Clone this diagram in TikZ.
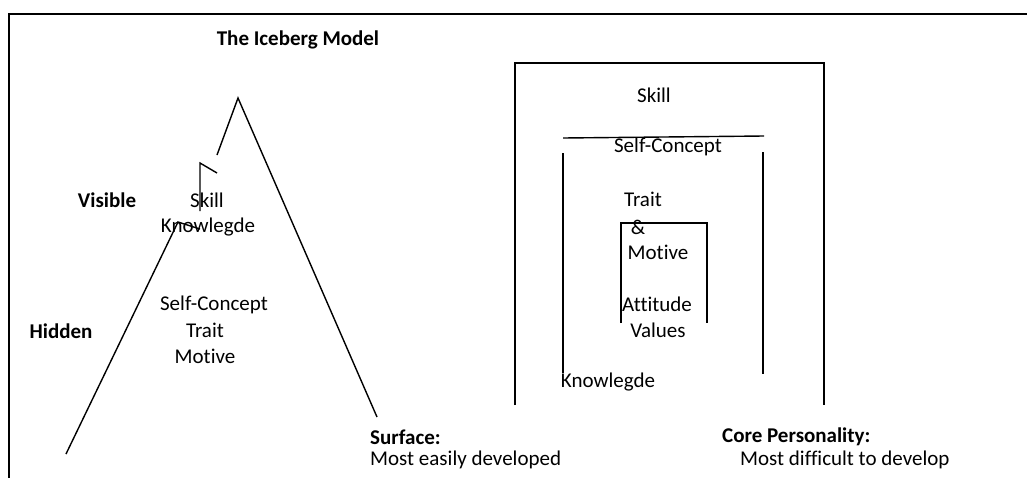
\documentclass[tikz,border=0pt]{standalone}
\usepackage{fontspec}
\setmainfont{Carlito}[Ligatures=NoCommon]
\begin{document}
\begin{tikzpicture}[x=1pt,y=-1pt,
  lbl/.style={inner sep=0pt, font=\fontsize{21}{24}\selectfont},
  blbl/.style={lbl, font=\fontsize{21}{24}\selectfont\bfseries},
  ln/.style={line width=1.4pt},
  frm/.style={line width=2pt}]
\useasboundingbox (0,0) rectangle (1027,477);
% page frame (top and left edges)
\draw[frm] (9,478) -- (9,14) -- (1028,14);

% title
\node[blbl] (title) at (298,40) {The Iceberg Model};

% iceberg outline
\coordinate (apex) at (238,98);
\draw[ln] (217,155) -- (apex) -- (377,417);
\draw[ln] (217,173) -- (200,163) -- (200,211);
\draw[ln] (66,454) -- (178,222) -- (200,229);

% iceberg labels
\node[blbl] (visible) at (107,200) {Visible};
\node[blbl] (hidden) at (61,331) {Hidden};
\node[lbl] (skillA) at (207,200) {Skill};
\node[lbl] (knowA) at (208,227) {Knowlegde};
\node[lbl] (selfA) at (214,305) {Self-Concept};
\node[lbl] (traitA) at (205,330) {Trait};
\node[lbl] (motiveA) at (205,356) {Motive};

% nested layers
\draw[ln] (515,405) -- (515,63) -- (824,63) -- (824,405);
\draw[ln] (563,138) -- (764,136);
\draw[ln] (563,153) -- (563,373);
\draw[ln] (763,152) -- (763,374);
\draw[ln] (621,323) -- (621,223) -- (707,223) -- (707,323);

% layer labels
\node[lbl] (skillB) at (654,95) {Skill};
\node[lbl] (selfB) at (668,147) {Self-Concept};
\node[lbl] (traitB) at (643,199) {Trait};
\node[lbl] (amp) at (638,227) {\&};
\node[lbl] (motiveB) at (658,252) {Motive};
\node[lbl] (attB) at (657,304) {Attitude};
\node[lbl] (valB) at (658,330) {Values};
\node[lbl] (knowB) at (608,382) {Knowlegde};

% captions
\node[blbl, anchor=west] (surf) at (370,437) {Surface:};
\node[lbl, anchor=west] (surfT) at (370,460) {Most easily developed};
\node[blbl, anchor=west] (core) at (722,437) {Core Personality:};
\node[lbl, anchor=west] (coreT) at (740,460) {Most difficult to develop};
\end{tikzpicture}
\end{document}
